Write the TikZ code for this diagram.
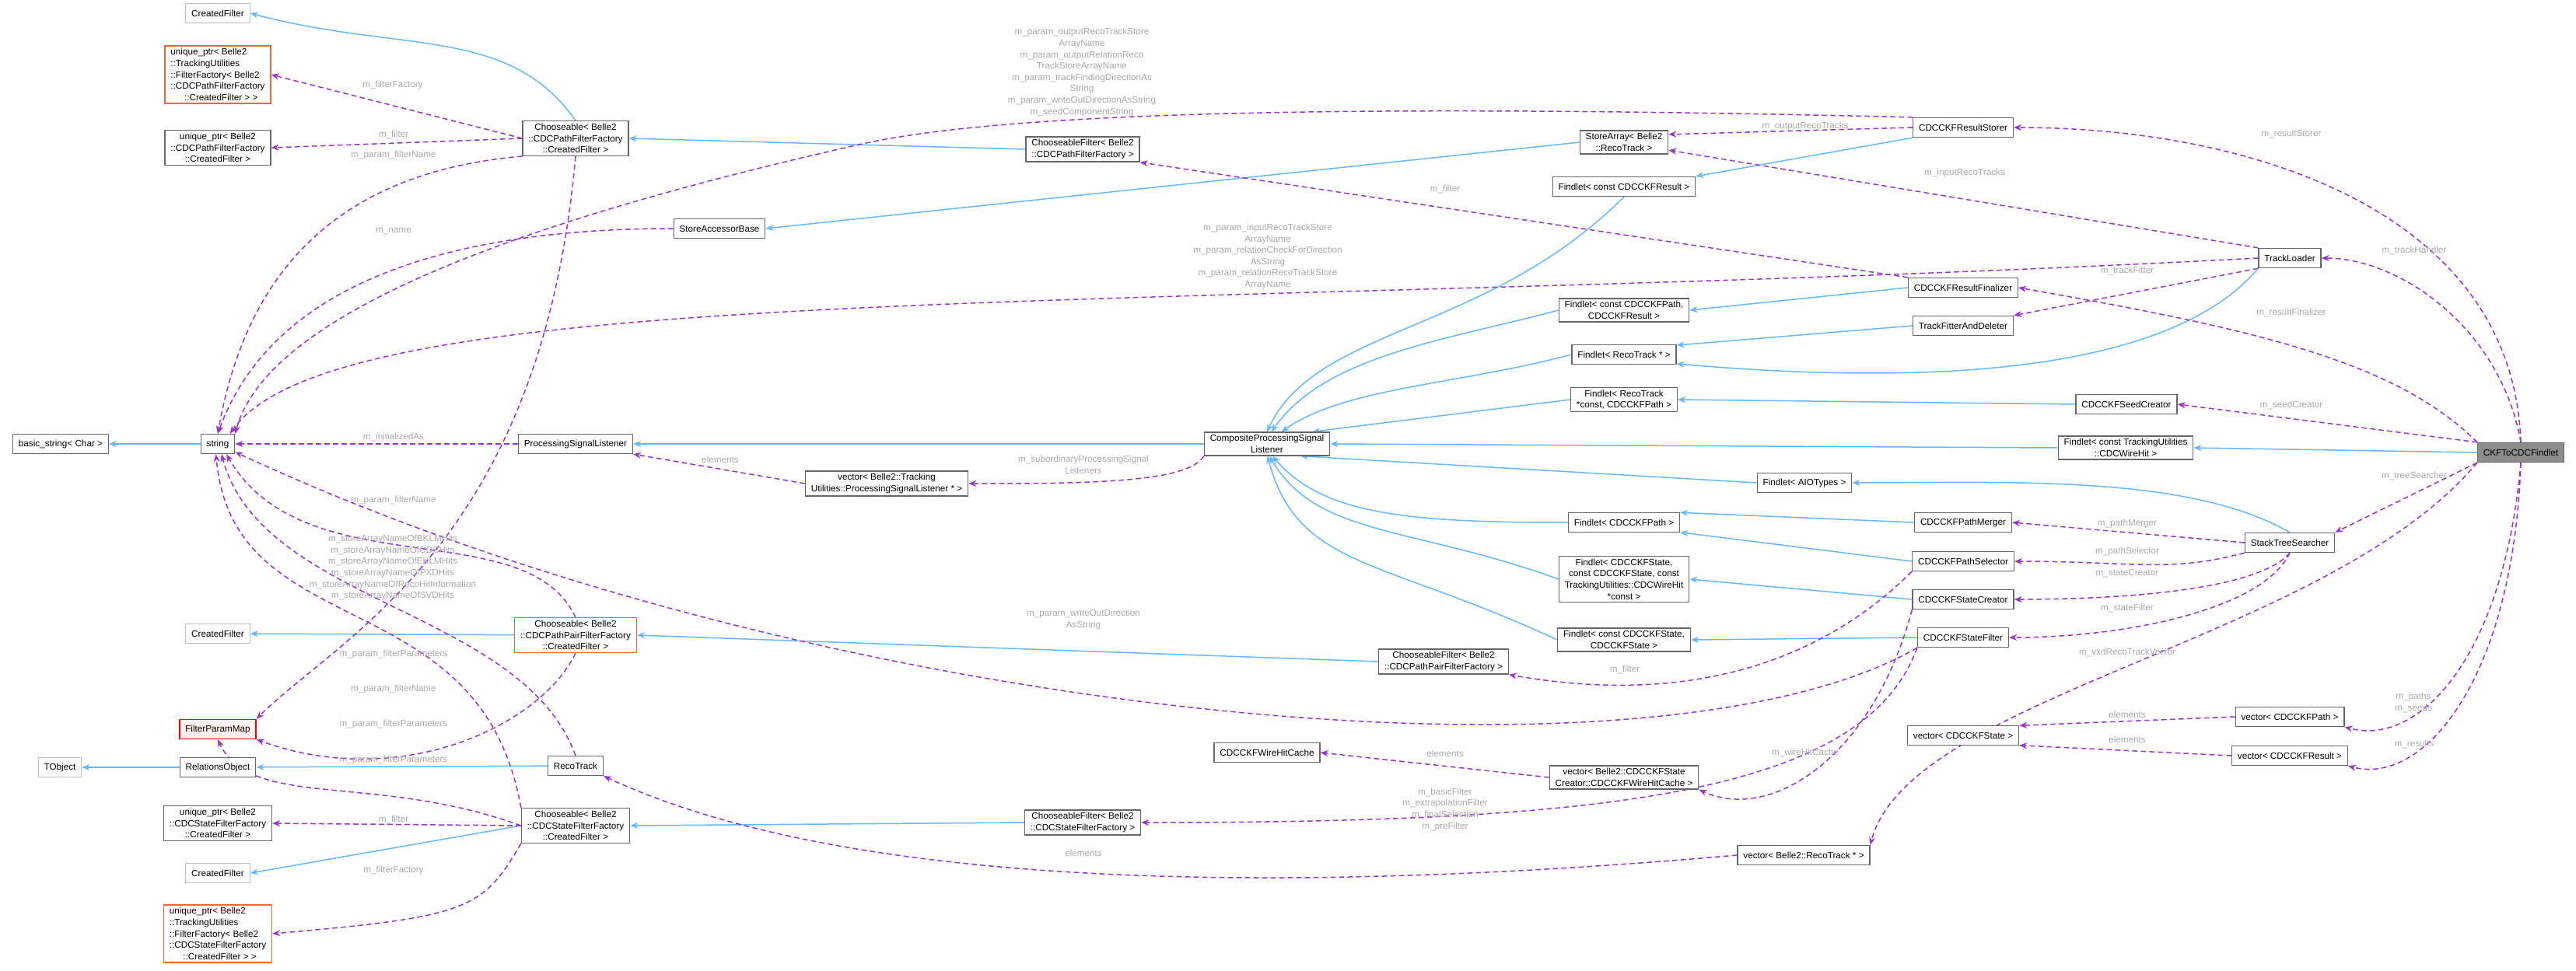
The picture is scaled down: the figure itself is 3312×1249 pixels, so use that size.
\documentclass[tikz,border=0pt]{standalone}
\usepackage{fontspec}
\setmainfont{Liberation Sans}
\usepackage{xcolor}
\usetikzlibrary{arrows.meta, backgrounds}
\definecolor{inhblue}{HTML}{63B8FF}
\definecolor{usepurple}{HTML}{9A32CD}
\definecolor{lblgray}{HTML}{A8A8A8}
\definecolor{incorange}{HTML}{FF6333}

\begin{document}
\begin{tikzpicture}[x=0.3mm, y=-0.3mm,
    box/.style={draw=black!60, line width=0.4mm, fill=white, font=\fontsize{10}{12.5}\selectfont, inner xsep=2.2mm, inner ysep=1mm, minimum height=7.5mm, align=center},
    gbox/.style={box, draw=black!25},
    obox/.style={box, draw=incorange},
    rbox/.style={box, draw=red, fill=red!6},
    hbox/.style={box, fill=black!45},
    lbl/.style={text=lblgray, font=\fontsize{10}{12.5}\selectfont, align=center, inner sep=0pt},
    inh/.style={draw=inhblue, line width=0.45mm, -{Stealth[length=3mm, width=2.4mm]}},
    use/.style={draw=usepurple, line width=0.45mm, dash pattern=on 2mm off 1.3mm, -{Stealth[length=3mm, width=2.4mm]}}]
    \useasboundingbox (0, 0) rectangle (3312, 1249);
    % left column
    \node [gbox] (cfA) at (280, 17) {CreatedFilter};
    \node [obox, align=left] (upA) at (280, 96) {unique\_ptr< Belle2\\::TrackingUtilities\\::FilterFactory< Belle2\\::CDCPathFilterFactory\\\hspace{1.5em}::CreatedFilter > >};
    \node [box] (upB) at (280, 190) {unique\_ptr< Belle2\\::CDCPathFilterFactory\\::CreatedFilter >};
    \node [box] (bstr) at (78, 571) {basic\_string< Char >};
    \node [box] (str) at (280, 571) {string};
    \node [gbox] (cfB) at (280, 815) {CreatedFilter};
    \node [rbox] (fpm) at (280, 938) {FilterParamMap};
    \node [gbox] (tobj) at (77, 987) {TObject};
    \node [box] (relobj) at (280, 987) {RelationsObject};
    \node [box] (upC) at (280, 1059) {unique\_ptr< Belle2\\::CDCStateFilterFactory\\::CreatedFilter >};
    \node [gbox] (cfC) at (280, 1123) {CreatedFilter};
    \node [obox, align=left] (upD) at (280, 1201) {unique\_ptr< Belle2\\::TrackingUtilities\\::FilterFactory< Belle2\\::CDCStateFilterFactory\\\hspace{1.5em}::CreatedFilter > >};
    % second column
    \node [box] (chPath) at (740, 178) {Chooseable< Belle2\\::CDCPathFilterFactory\\::CreatedFilter >};
    \node [box] (sab) at (925, 294) {StoreAccessorBase};
    \node [box] (psl) at (740, 571) {ProcessingSignalListener};
    \node [box] (vpsl) at (1140, 622) {vector< Belle2::Tracking\\Utilities::ProcessingSignalListener * >};
    \node [obox] (chPair) at (740, 817) {Chooseable< Belle2\\::CDCPathPairFilterFactory\\::CreatedFilter >};
    \node [box] (rtrack) at (740, 985) {RecoTrack};
    \node [box] (chState) at (740, 1062) {Chooseable< Belle2\\::CDCStateFilterFactory\\::CreatedFilter >};
    % middle
    \node [box] (cfPath) at (1392, 192) {ChooseableFilter< Belle2\\::CDCPathFilterFactory >};
    \node [box] (cpsl) at (1629, 571) {CompositeProcessingSignal\\Listener};
    \node [box] (whc) at (1629, 968) {CDCCKFWireHitCache};
    \node [box] (cfState) at (1392, 1058) {ChooseableFilter< Belle2\\::CDCStateFilterFactory >};
    \node [box] (cfPair) at (1856, 851) {ChooseableFilter< Belle2\\::CDCPathPairFilterFactory >};
    % findlet column
    \node [box] (sarr) at (2088, 183) {StoreArray< Belle2\\::RecoTrack >};
    \node [box] (fResult) at (2088, 240) {Findlet< const CDCCKFResult >};
    \node [box] (fPathRes) at (2088, 399) {Findlet< const CDCCKFPath,\\CDCCKFResult >};
    \node [box] (fReco) at (2088, 456) {Findlet< RecoTrack * >};
    \node [box] (fRecoPath) at (2088, 514) {Findlet< RecoTrack\\*const, CDCCKFPath >};
    \node [box] (fPath) at (2088, 672) {Findlet< CDCCKFPath >};
    \node [box] (fState) at (2088, 745) {Findlet< CDCCKFState,\\const CDCCKFState, const\\TrackingUtilities::CDCWireHit\\*const >};
    \node [box] (fCState) at (2088, 823) {Findlet< const CDCCKFState,\\CDCCKFState >};
    \node [box] (vwhc) at (2088, 1000) {vector< Belle2::CDCCKFState\\Creator::CDCCKFWireHitCache >};
    % right part
    \node [box] (storer) at (2524, 164) {CDCCKFResultStorer};
    \node [box] (finalizer) at (2524, 370) {CDCCKFResultFinalizer};
    \node [box] (fitter) at (2524, 419) {TrackFitterAndDeleter};
    \node [box] (seed) at (2734, 520) {CDCCKFSeedCreator};
    \node [box] (fWire) at (2733, 576) {Findlet< const TrackingUtilities\\::CDCWireHit >};
    \node [box] (fAIO) at (2320, 621) {Findlet< AIOTypes >};
    \node [box] (merger) at (2524, 672) {CDCCKFPathMerger};
    \node [box] (selector) at (2524, 722) {CDCCKFPathSelector};
    \node [box] (creator) at (2524, 771) {CDCCKFStateCreator};
    \node [box] (sfilter) at (2524, 820) {CDCCKFStateFilter};
    \node [box] (vstate) at (2524, 946) {vector< CDCCKFState >};
    \node [box] (vreco) at (2319, 1100) {vector< Belle2::RecoTrack * >};
    \node [box] (loader) at (2944, 332) {TrackLoader};
    \node [box] (searcher) at (2944, 698) {StackTreeSearcher};
    \node [box] (vpath) at (2944, 922) {vector< CDCCKFPath >};
    \node [box] (vresult) at (2944, 972) {vector< CDCCKFResult >};
    \node [hbox] (ckf) at (3241, 582) {CKFToCDCFindlet};

    \begin{scope}[on background layer]
    % inheritance
    \draw [inh] (chPath.north) .. controls +(125:45mm) and +(-15:60mm) .. (cfA.east);
    \draw [inh] (str) -- (bstr);
    \draw [inh] (chPair) -- (cfB);
    \draw [inh] (chState.west) -- (cfC.east);
    \draw [inh] (relobj) -- (tobj);
    \draw [inh] (rtrack) -- (relobj);
    \draw [inh] (cfPath.west) -- (chPath.east);
    \draw [inh] (sarr.west) -- (sab.east);
    \draw [inh] (cpsl) -- (psl);
    \draw [inh] (storer.south west) -- (fResult.north east);
    \draw [inh] (fResult.south) .. controls +(-135:75mm) and +(65:45mm) .. (cpsl.north);
    \draw [inh] (fPathRes.west) .. controls +(195:45mm) and +(55:36mm) .. (cpsl.70);
    \draw [inh] (fReco.west) .. controls +(195:45mm) and +(35:30mm) .. (cpsl.40);
    \draw [inh] (fRecoPath.west) -- (cpsl.15);
    \draw [inh] (fWire.west) -- (cpsl.east);
    \draw [inh] (fAIO.west) -- (cpsl.-20);
    \draw [inh] (fPath.west) .. controls +(180:60mm) and +(-50:30mm) .. (cpsl.-65);
    \draw [inh] (fState.west) .. controls +(160:60mm) and +(-60:36mm) .. (cpsl.-78);
    \draw [inh] (fCState.west) .. controls +(155:75mm) and +(-75:45mm) .. (cpsl.-88);
    \draw [inh] (cfPair.west) -- (chPair.east);
    \draw [inh] (cfState.west) -- (chState.east);
    \draw [inh] (finalizer.west) -- (fPathRes.east);
    \draw [inh] (fitter.west) -- (fReco.10);
    \draw [inh] (loader.south west) .. controls +(-130:45mm) and +(-5:120mm) .. (fReco.-10);
    \draw [inh] (seed.west) -- (fRecoPath.east);
    \draw [inh] (ckf.west) -- (fWire.east);
    \draw [inh] (searcher.north) .. controls +(150:45mm) and +(0:60mm) .. (fAIO.east);
    \draw [inh] (merger.west) -- (fPath.10);
    \draw [inh] (selector.west) -- (fPath.-10);
    \draw [inh] (creator.west) -- (fState.east);
    \draw [inh] (sfilter.west) -- (fCState.east);

    % members
    \draw [use] (chPath.west) -- (upA.east);
    \draw [use] (chPath.west) -- (upB.east);
    \draw [use] (chPath.south west) .. controls +(185:75mm) and +(80:60mm) .. (str.north);
    \draw [use] (chPath.south) .. controls +(-95:150mm) and +(45:45mm) .. (fpm.north east);
    \draw [use] (sab.west) .. controls +(180:90mm) and +(70:60mm) .. (str.north);
    \draw [use] (psl) -- (str);
    \draw [use] (vpsl.west) -- (psl.south east);
    \draw [use] (cpsl.south west) .. controls +(-120:12mm) and +(0:45mm) .. (vpsl.east);
    \draw [use] (storer.north west) .. controls (1800, 135) and (1300, 140) .. (1100, 187) .. controls (600, 300) and (340, 420) .. (str.north east);
    \draw [use] (storer.west) -- (sarr.10);
    \draw [use] (loader.north west) -- (sarr.-10);
    \draw [use] (loader.west) .. controls +(183:420mm) and +(55:75mm) .. (str.40);
    \draw [use] (loader.south west) -- (fitter.north east);
    \draw [use] (finalizer.north west) -- (cfPath.south east);
    \draw [use] (ckf.north) .. controls +(92:90mm) and +(0:90mm) .. (storer.east);
    \draw [use] (ckf.north) .. controls +(100:45mm) and +(0:30mm) .. (loader.east);
    \draw [use] (ckf.north west) .. controls +(135:45mm) and +(-10:90mm) .. (finalizer.east);
    \draw [use] (ckf.north west) -- (seed.east);
    \draw [use] (ckf.south west) -- (searcher.north east);
    \draw [use] (ckf.south) .. controls +(-95:75mm) and +(-15:30mm) .. (vpath.south east);
    \draw [use] (ckf.south) .. controls +(-92:84mm) and +(-15:30mm) .. (vresult.south east);
    \draw [use] (ckf.south west) .. controls +(-130:90mm) and +(75:60mm) .. (vreco.north east);
    \draw [use] (searcher.west) -- (merger.east);
    \draw [use] (searcher.south west) .. controls +(195:30mm) and +(0:45mm) .. (selector.east);
    \draw [use] (searcher.south) .. controls +(-130:18mm) and +(0:45mm) .. (creator.east);
    \draw [use] (searcher.south) .. controls +(-115:24mm) and +(0:45mm) .. (sfilter.east);
    \draw [use] (selector.south west) .. controls +(-135:45mm) and +(-10:75mm) .. (cfPair.south east);
    \draw [use] (sfilter.south west) .. controls +(-150:120mm) and +(-25:240mm) .. (str.-25);
    \draw [use] (creator.south west) .. controls +(-105:60mm) and +(-25:30mm) .. (vwhc.south east);
    \draw [use] (sfilter.south west) .. controls +(-110:60mm) and +(0:180mm) .. (cfState.east);
    \draw [use] (vwhc.west) -- (whc.east);
    \draw [use] (vreco.west) .. controls +(185:210mm) and +(-25:90mm) .. (rtrack.south east);
    \draw [use] (vpath.west) -- (vstate.10);
    \draw [use] (vresult.west) -- (vstate.-10);
    \draw [use] (rtrack.north) .. controls +(110:60mm) and +(-75:60mm) .. (str.-70);
    \draw [use] (chPair.north) .. controls +(115:45mm) and +(-60:60mm) .. (str.-50);
    \draw [use] (chPair.south) .. controls +(-115:30mm) and +(-20:60mm) .. (fpm.south east);
    \draw [use] (chState.north west) .. controls +(100:90mm) and +(-85:75mm) .. (str.-100);
    \draw [use] (chState.west) .. controls +(160:60mm) and +(-65:30mm) .. (fpm.south);
    \draw [use] (chState.west) -- (upC.east);
    \draw [use] (chState.south west) .. controls +(-120:30mm) and +(5:75mm) .. (upD.east);
    \end{scope}

    % labels
    \node [lbl] (lA1) at (505, 109) {m\_filterFactory};
    \node [lbl] (lA2) at (506, 173) {m\_filter};
    \node [lbl] (lA3) at (506, 199) {m\_param\_filterName};
    \node [lbl] (lA4) at (506, 841) {m\_param\_filterParameters};
    \node [lbl] (lA5) at (506, 298) {m\_name};
    \node [lbl] (lA6) at (506, 562) {m\_initializedAs};
    \node [lbl] (lA7) at (926, 591) {elements};
    \node [lbl] (lA8) at (1393, 598) {m\_subordinaryProcessingSignal\\Listeners};
    \node [lbl] (lA9) at (1391, 93) {m\_param\_outputRecoTrackStore\\ArrayName\\m\_param\_outputRelationReco\\TrackStoreArrayName\\m\_param\_trackFindingDirectionAs\\String\\m\_param\_writeOutDirectionAsString\\m\_seedComponentString};
    \node [lbl] (lB1) at (2321, 162) {m\_outputRecoTracks};
    \node [lbl] (lB2) at (2526, 222) {m\_inputRecoTracks};
    \node [lbl] (lB3) at (1630, 330) {m\_param\_inputRecoTrackStore\\ArrayName\\m\_param\_relationCheckForDirection\\AsString\\m\_param\_relationRecoTrackStore\\ArrayName};
    \node [lbl] (lB4) at (2735, 348) {m\_trackFitter};
    \node [lbl] (lB5) at (1858, 243) {m\_filter};
    \node [lbl] (lC1) at (2946, 172) {m\_resultStorer};
    \node [lbl] (lC2) at (3104, 322) {m\_trackHandler};
    \node [lbl] (lC3) at (2946, 402) {m\_resultFinalizer};
    \node [lbl] (lC4) at (2946, 521) {m\_seedCreator};
    \node [lbl] (lC5) at (3104, 612) {m\_treeSearcher};
    \node [lbl] (lC6) at (3103, 904) {m\_paths\\m\_seeds};
    \node [lbl] (lC7) at (3104, 957) {m\_results};
    \node [lbl] (lC8) at (2735, 839) {m\_vxdRecoTrackVector};
    \node [lbl] (lD1) at (2735, 673) {m\_pathMerger};
    \node [lbl] (lD2) at (2735, 709) {m\_pathSelector};
    \node [lbl] (lD3) at (2735, 738) {m\_stateCreator};
    \node [lbl] (lD4) at (2735, 782) {m\_stateFilter};
    \node [lbl] (lD5) at (2089, 861) {m\_filter};
    \node [lbl] (lD6) at (1393, 797) {m\_param\_writeOutDirection\\AsString};
    \node [lbl] (lD7) at (2321, 968) {m\_wireHitCache};
    \node [lbl] (lD8) at (1858, 1041) {m\_basicFilter\\m\_extrapolationFilter\\m\_finalSelection\\m\_preFilter};
    \node [lbl] (lD9) at (1858, 969) {elements};
    \node [lbl] (lE1) at (1393, 1097) {elements};
    \node [lbl] (lE2) at (2735, 919) {elements};
    \node [lbl] (lE3) at (2735, 951) {elements};
    \node [lbl] (lE4) at (505, 730) {m\_storeArrayNameOfBKLMHits\\m\_storeArrayNameOfCDCHits\\m\_storeArrayNameOfEKLMHits\\m\_storeArrayNameOfPXDHits\\m\_storeArrayNameOfRecoHitInformation\\m\_storeArrayNameOfSVDHits};
    \node [lbl] (lE5) at (506, 643) {m\_param\_filterName};
    \node [lbl] (lE6) at (506, 931) {m\_param\_filterParameters};
    \node [lbl] (lE7) at (506, 886) {m\_param\_filterName};
    \node [lbl] (lE8) at (506, 977) {m\_param\_filterParameters};
    \node [lbl] (lE9) at (506, 1054) {m\_filter};
    \node [lbl] (lF1) at (506, 1119) {m\_filterFactory};
\end{tikzpicture}
\end{document}
